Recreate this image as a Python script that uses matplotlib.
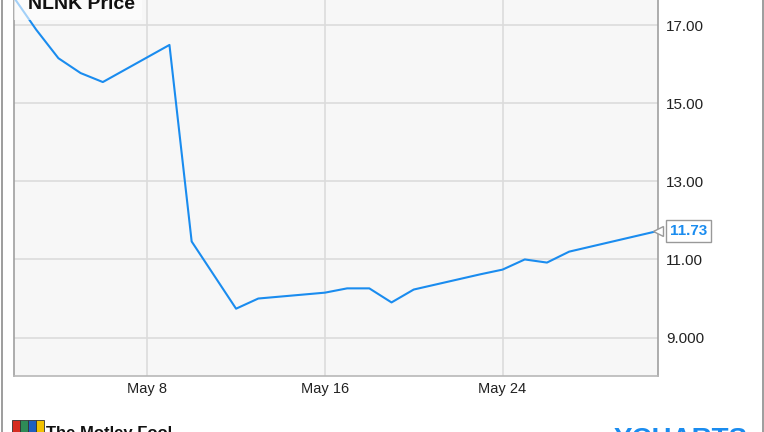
import matplotlib
matplotlib.use("Agg")
import matplotlib.pyplot as plt
from matplotlib.patches import Rectangle
from matplotlib.lines import Line2D
import pandas as pd

# NLNK daily close, May 2016
dates = ["2016-05-02", "2016-05-03", "2016-05-04", "2016-05-05", "2016-05-06",
         "2016-05-09", "2016-05-10", "2016-05-11", "2016-05-12", "2016-05-13",
         "2016-05-16", "2016-05-17", "2016-05-18", "2016-05-19", "2016-05-20",
         "2016-05-23", "2016-05-24", "2016-05-25", "2016-05-26", "2016-05-27",
         "2016-05-31"]
prices = [17.70, 16.88, 16.15, 15.77, 15.54,
          16.49, 11.46, 10.60, 9.74, 10.00,
          10.15, 10.26, 10.26, 9.90, 10.23,
          10.62, 10.74, 11.00, 10.92, 11.20,
          11.73]
last_label = "11.73"
y_ticks = [9, 11, 13, 15, 17]
y_tick_labels = ["9.000", "11.00", "13.00", "15.00", "17.00"]
x_ticks = ["2016-05-08", "2016-05-16", "2016-05-24"]
x_tick_labels = ["May 8", "May 16", "May 24"]

x = pd.to_datetime(dates)
W, H = 764, 432
blue = "#1a8cef"
sans = ["Liberation Sans", "DejaVu Sans"]

fig = plt.figure(figsize=(W / 100, H / 100), dpi=100)
fig.patch.set_facecolor("white")

# axes placed in pixel layout
ax = fig.add_axes([14 / W, 56.5 / H, 644 / W, 375.5 / H])
ax.set_facecolor("#f7f7f7")

ax.plot(x, prices, color=blue, lw=1.5, zorder=3)

ax.set_xlim(pd.Timestamp("2016-05-02"), pd.Timestamp("2016-05-31"))
ax.set_ylim(8.03, 17.64)

ax.set_yticks(y_ticks)
ax.set_yticklabels(y_tick_labels)
ax.yaxis.tick_right()
ax.set_xticks(pd.to_datetime(x_ticks))
ax.set_xticklabels(x_tick_labels)

ax.tick_params(axis="y", length=0, pad=6, labelsize=11, labelcolor="#222222")
ax.tick_params(axis="x", length=0, pad=5, labelsize=10.5, labelcolor="#222222")
for lab in ax.get_xticklabels() + ax.get_yticklabels():
    lab.set_family(sans)

ax.grid(True, color="#dcdcdc", lw=1.2)
ax.set_axisbelow(True)

ax.spines["top"].set_visible(False)
ax.spines["left"].set_color("#a0a0a0")
ax.spines["right"].set_color("#a0a0a0")
ax.spines["bottom"].set_color("#b8b8b8")
for s in ["left", "right", "bottom"]:
    ax.spines[s].set_linewidth(1.2)

# title box over the top-left corner
fig.add_artist(Rectangle((14 / W, 1 - 20 / H), 128 / W, 20 / H,
                         transform=fig.transFigure, facecolor="white",
                         alpha=0.6, edgecolor="none", zorder=5))
fig.text(28 / W, 1 - 9 / H, "NLNK Price", fontsize=14, fontweight="bold",
         family=sans, color="#111111", va="baseline", ha="left", zorder=6)

# last value flag
ax.plot([x[-1]], [prices[-1]], marker="<", markersize=7, color="white",
        markeredgecolor="#999999", markeredgewidth=1, clip_on=False, zorder=4)
ax.annotate(last_label, xy=(x[-1], prices[-1]), xytext=(8.5, 0),
            textcoords="offset points", va="center", ha="left",
            fontsize=11, fontweight="bold", color=blue, family=sans,
            bbox=dict(boxstyle="square,pad=0.28", fc="white", ec="#999999", lw=1),
            annotation_clip=False, zorder=5)

# outer frame lines
fig.add_artist(Line2D([1.5 / W, 1.5 / W], [0, 1], transform=fig.transFigure,
                      color="#8c8c8c", lw=1.2))
fig.add_artist(Line2D([762.5 / W, 762.5 / W], [0, 1], transform=fig.transFigure,
                      color="#8c8c8c", lw=1.2))

# footer branding, cut off by the bottom edge as in the source
logo_colors = ["#d62d20", "#2e8b57", "#1f5fbf", "#f2c200"]
for i, c in enumerate(logo_colors):
    fig.add_artist(Rectangle(((12 + i * 8) / W, 0), 8 / W, 12 / H,
                             transform=fig.transFigure, facecolor=c,
                             edgecolor="#333333", lw=0.6))
fig.text(46 / W, 1 - 426 / H, "The Motley Fool", fontsize=12, fontweight="bold",
         family=sans, color="#111111", va="top", ha="left")
fig.text(614 / W, 1 - 427 / H, "YCHARTS", fontsize=20, fontweight="bold",
         family=sans, color=blue, va="top", ha="left")

fig.savefig("out.png", dpi=100)
